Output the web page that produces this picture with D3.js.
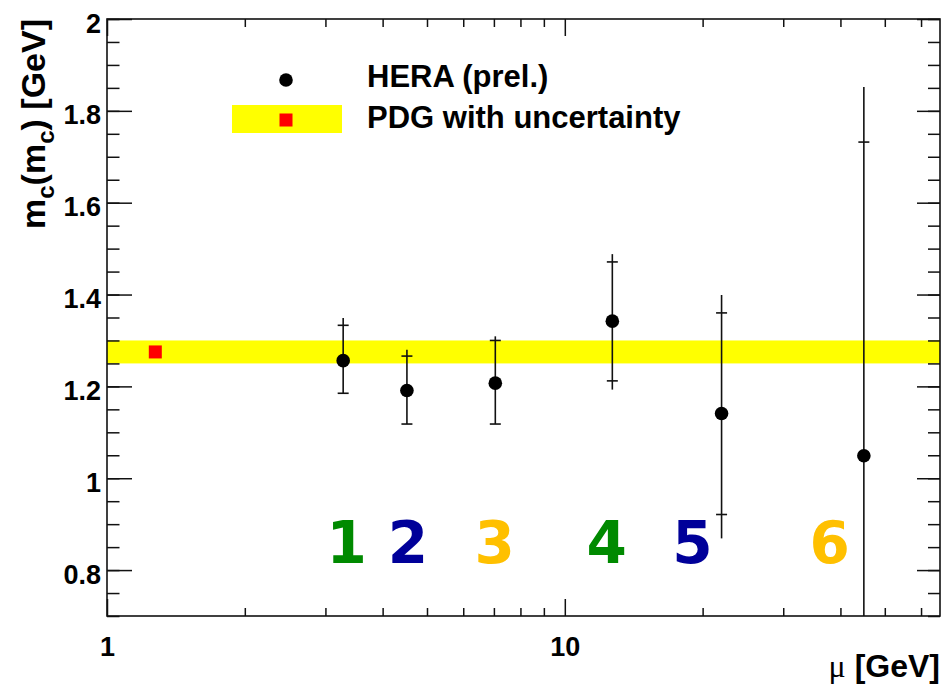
<!DOCTYPE html>
<html>
<head>
<meta charset="utf-8">
<script src="https://cdn.jsdelivr.net/npm/d3@7"></script>
<style>
  body { margin: 0; background: #fff; }
  svg { display: block; font-family: "Liberation Sans", Arial, sans-serif; }
</style>
</head>
<body>
<div id="chart"></div>
<script>
// HERA charm mass measurements at different scales mu
const muValues = [3.28, 4.52, 7.05, 12.7, 22.0, 45.0];
const mcValues = [1.256, 1.191, 1.207, 1.342, 1.141, 1.049];
const statUp = [0.077, 0.075, 0.093, 0.129, 0.219, 0.683];
const statDown = [0.071, 0.073, 0.089, 0.130, 0.220, 0.68];
const totalUp = [0.093, 0.089, 0.102, 0.146, 0.258, 0.803];
const totalDown = [0.071, 0.073, 0.089, 0.149, 0.272, 0.80];

// PDG value
const pdgMu = 1.275;
const pdgMc = 1.275;
const pdgUnc = 0.025;

// bin number labels
const binLabels = ["1", "2", "3", "4", "5", "6"];
const binLabelMu = [3.34, 4.54, 7.03, 12.35, 19.0, 37.9];
const binLabelColors = ["#008a00", "#000099", "#ffc000", "#008a00", "#000099", "#ffc000"];
const binLabelY = 0.815;

// axis ticks
const yMajorTicks = [0.8, 1, 1.2, 1.4, 1.6, 1.8, 2];
const yMinorTicks = d3.range(0.7, 2.001, 0.05).map(d => +d.toFixed(2));
const xMajorTicks = [1, 10];
const xMinorTicks = [2, 3, 4, 5, 6, 7, 8, 9, 20, 30, 40, 50, 60];

const margin = { top: 19, right: 3, bottom: 73, left: 107 };
const width = 943 - margin.left - margin.right;
const height = 689 - margin.top - margin.bottom;

const svgRoot = d3.select("#chart").append("svg")
    .attr("width", 943)
    .attr("height", 689);

const svg = svgRoot.append("g")
    .attr("transform", `translate(${margin.left}, ${margin.top})`);

const x = d3.scaleLog().domain([1, 66]).range([0, width]);
const y = d3.scaleLinear().domain([0.7, 2]).range([height, 0]);

svg.append("clipPath").attr("id", "plotClip")
    .append("rect").attr("width", width).attr("height", height);

const plot = svg.append("g").attr("clip-path", "url(#plotClip)");

// PDG band
plot.append("rect")
    .attr("x", 0)
    .attr("width", width)
    .attr("y", y(pdgMc + pdgUnc))
    .attr("height", y(pdgMc - pdgUnc) - y(pdgMc + pdgUnc))
    .attr("fill", "#ffff00");

plot.append("rect")
    .attr("x", x(pdgMu) - 6.5)
    .attr("y", y(pdgMc) - 6.5)
    .attr("width", 13)
    .attr("height", 13)
    .attr("fill", "#ff0000");

// Bin labels
svg.append("g").selectAll("text")
    .data(binLabels)
    .join("text")
    .attr("x", (d, i) => x(binLabelMu[i]))
    .attr("y", y(binLabelY))
    .attr("text-anchor", "middle")
    .attr("fill", (d, i) => binLabelColors[i])
    .style("font-family", "'DejaVu Sans', sans-serif")
    .style("font-weight", "bold")
    .style("font-size", "58px")
    .text(d => d);

// Error bars
const points = muValues.map((mu, i) => ({
    mu, mc: mcValues[i],
    su: statUp[i], sd: statDown[i], tu: totalUp[i], td: totalDown[i]
}));

const errG = plot.append("g").attr("stroke", "#111").attr("stroke-width", 1.6);

errG.selectAll(".err")
    .data(points)
    .join("line")
    .attr("x1", d => x(d.mu))
    .attr("x2", d => x(d.mu))
    .attr("y1", d => y(d.mc + d.tu))
    .attr("y2", d => y(d.mc - d.td));

errG.selectAll(".statUp")
    .data(points)
    .join("line")
    .attr("x1", d => x(d.mu) - 5.5)
    .attr("x2", d => x(d.mu) + 5.5)
    .attr("y1", d => y(d.mc + d.su))
    .attr("y2", d => y(d.mc + d.su));

errG.selectAll(".statDown")
    .data(points)
    .join("line")
    .attr("x1", d => x(d.mu) - 5.5)
    .attr("x2", d => x(d.mu) + 5.5)
    .attr("y1", d => y(d.mc - d.sd))
    .attr("y2", d => y(d.mc - d.sd));

plot.selectAll(".pt")
    .data(points)
    .join("circle")
    .attr("cx", d => x(d.mu))
    .attr("cy", d => y(d.mc))
    .attr("r", 6.8)
    .attr("fill", "#000");

// Axes (ticks pointing inwards, ROOT style)
function styleAxis(g) {
    g.select(".domain").remove();
    g.selectAll("line").attr("stroke", "#111").attr("stroke-width", 1.5);
}

// left
svg.append("g")
    .call(d3.axisLeft(y).tickValues(yMinorTicks).tickSize(-12.5).tickFormat(""))
    .call(styleAxis);
svg.append("g")
    .call(d3.axisLeft(y).tickValues(yMajorTicks).tickSize(-25).tickPadding(6).tickFormat(d3.format("")))
    .call(styleAxis)
    .call(g => g.selectAll("text")
        .attr("dy", null)
        .attr("y", 13)
        .attr("x", -6)
        .attr("fill", "#000")
        .style("font-size", "27px")
        .style("font-weight", "bold")
        .style("font-family", "'Liberation Sans', Arial, sans-serif"));

// right
svg.append("g")
    .attr("transform", `translate(${width}, 0)`)
    .call(d3.axisRight(y).tickValues(yMinorTicks).tickSize(-12).tickFormat(""))
    .call(styleAxis);
svg.append("g")
    .attr("transform", `translate(${width}, 0)`)
    .call(d3.axisRight(y).tickValues(yMajorTicks).tickSize(-23).tickFormat(""))
    .call(styleAxis);

// bottom
svg.append("g")
    .attr("transform", `translate(0, ${height})`)
    .call(d3.axisBottom(x).tickValues(xMinorTicks).tickSize(-8).tickFormat(""))
    .call(styleAxis);
svg.append("g")
    .attr("transform", `translate(0, ${height})`)
    .call(d3.axisBottom(x).tickValues(xMajorTicks).tickSize(-17).tickFormat(d3.format("d")))
    .call(styleAxis)
    .call(g => g.selectAll("text")
        .attr("dy", null)
        .attr("y", 40)
        .attr("fill", "#000")
        .style("font-size", "27px")
        .style("font-weight", "bold")
        .style("font-family", "'Liberation Sans', Arial, sans-serif"));

// top
svg.append("g")
    .call(d3.axisTop(x).tickValues(xMinorTicks).tickSize(-8).tickFormat(""))
    .call(styleAxis);
svg.append("g")
    .call(d3.axisTop(x).tickValues(xMajorTicks).tickSize(-17).tickFormat(""))
    .call(styleAxis);

// frame
svg.append("rect")
    .attr("width", width)
    .attr("height", height)
    .attr("fill", "none")
    .attr("stroke", "#111")
    .attr("stroke-width", 1.6);

// Axis titles
const xTitle = svgRoot.append("text")
    .attr("x", 940)
    .attr("y", 677)
    .attr("text-anchor", "end")
    .style("font-size", "32px")
    .style("font-weight", "bold");
xTitle.append("tspan")
    .style("font-family", "'Liberation Serif', serif")
    .style("font-weight", "normal")
    .text("\u03bc");
xTitle.append("tspan").text(" [GeV]");

const yTitle = svgRoot.append("text")
    .attr("transform", "translate(45, 19) rotate(-90)")
    .attr("text-anchor", "end")
    .style("font-size", "34px")
    .style("font-weight", "bold");
yTitle.append("tspan").text("m");
yTitle.append("tspan").attr("dy", 9).style("font-size", "24px").text("c");
yTitle.append("tspan").attr("dy", -9).text("(m");
yTitle.append("tspan").attr("dy", 9).style("font-size", "24px").text("c");
yTitle.append("tspan").attr("dy", -9).text(") [GeV]");

// Legend
const legend = svgRoot.append("g");
legend.append("circle")
    .attr("cx", 286).attr("cy", 80).attr("r", 6.8).attr("fill", "#000");
legend.append("text")
    .attr("x", 367).attr("y", 87)
    .style("font-size", "31px").style("font-weight", "bold")
    .text("HERA (prel.)");
legend.append("rect")
    .attr("x", 232).attr("y", 105).attr("width", 110).attr("height", 28)
    .attr("fill", "#ffff00");
legend.append("rect")
    .attr("x", 279.5).attr("y", 113.5).attr("width", 13).attr("height", 13)
    .attr("fill", "#ff0000");
legend.append("text")
    .attr("x", 367).attr("y", 128)
    .style("font-size", "31px").style("font-weight", "bold")
    .text("PDG with uncertainty");
</script>
</body>
</html>
